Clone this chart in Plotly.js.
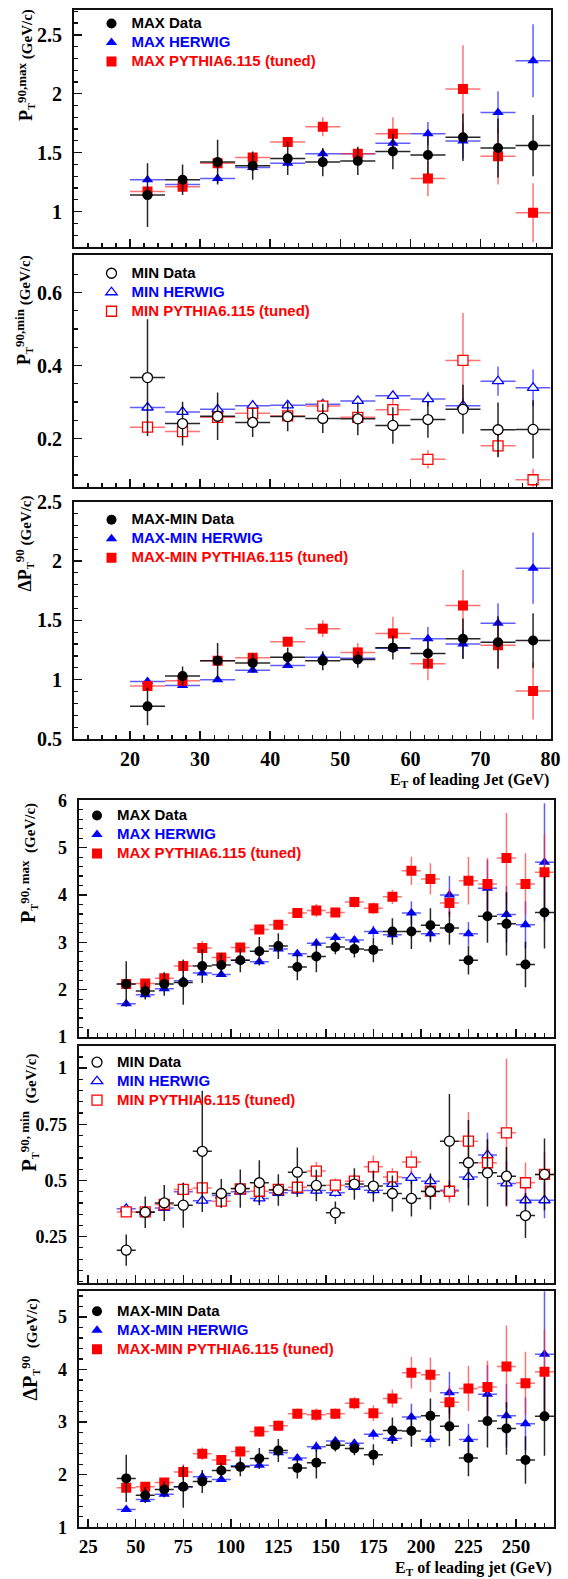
<!DOCTYPE html>
<html>
<head>
<meta charset="utf-8">
<script src="https://cdn.plot.ly/plotly-3.0.1.min.js"></script>
<style>html,body{margin:0;padding:0;background:#fff;}#chart{width:568px;height:1579px;}</style>
</head>
<body>
<div id="chart"></div>
<script>
// ---------------- DATA ----------------
// Upper group: E_T of leading jet bins 20-80 GeV (bin centres), half bin width
const xTop = [22.5, 27.5, 32.5, 37.5, 42.5, 47.5, 52.5, 57.5, 62.5, 67.5, 72.5, 77.5];
const topBinHalfWidth = 2.5;

const maxData      = [1.14, 1.27, 1.42, 1.39, 1.45, 1.42, 1.43, 1.51, 1.48, 1.63, 1.54, 1.56];
const maxDataErr   = [0.27, 0.13, 0.19, 0.12, 0.14, 0.12, 0.12, 0.15, 0.16, 0.20, 0.25, 0.26];
const maxHerwig    = [1.27, 1.23, 1.28, 1.375, 1.41, 1.49, 1.49, 1.58, 1.66, 1.60, 1.84, 2.28];
const maxHerwigErr = [0.02, 0.02, 0.04, 0.03, 0.03, 0.04, 0.02, 0.03, 0.10, 0.15, 0.18, 0.31];
const maxPythia    = [1.17, 1.21, 1.41, 1.46, 1.59, 1.72, 1.49, 1.66, 1.28, 2.04, 1.47, 0.99];
const maxPythiaErr = [0.03, 0.03, 0.03, 0.03, 0.04, 0.08, 0.05, 0.14, 0.15, 0.37, 0.24, 0.25];

const minData      = [0.367, 0.241, 0.261, 0.244, 0.260, 0.255, 0.254, 0.236, 0.252, 0.280, 0.224, 0.225];
const minDataErr   = [0.16, 0.06, 0.065, 0.04, 0.04, 0.04, 0.045, 0.05, 0.05, 0.067, 0.075, 0.08];
const minHerwig    = [0.285, 0.273, 0.280, 0.290, 0.291, 0.294, 0.303, 0.317, 0.308, 0.290, 0.357, 0.339];
const minHerwigErr = [0.005, 0.005, 0.005, 0.005, 0.005, 0.006, 0.006, 0.01, 0.02, 0.02, 0.04, 0.05];
const minPythia    = [0.231, 0.219, 0.258, 0.269, 0.262, 0.289, 0.258, 0.279, 0.143, 0.414, 0.180, 0.087];
const minPythiaErr = [0.01, 0.01, 0.01, 0.01, 0.01, 0.02, 0.01, 0.03, 0.025, 0.13, 0.03, 0.03];

const diffData      = [0.775, 1.03, 1.16, 1.14, 1.19, 1.16, 1.17, 1.27, 1.22, 1.345, 1.315, 1.33];
const diffDataErr   = [0.16, 0.08, 0.15, 0.08, 0.08, 0.08, 0.07, 0.10, 0.12, 0.17, 0.22, 0.23];
const diffHerwig    = [0.985, 0.95, 1.00, 1.08, 1.12, 1.19, 1.18, 1.265, 1.345, 1.30, 1.475, 1.94];
const diffHerwigErr = [0.02, 0.02, 0.02, 0.02, 0.02, 0.02, 0.02, 0.02, 0.10, 0.12, 0.17, 0.30];
const diffPythia    = [0.947, 0.99, 1.16, 1.185, 1.32, 1.43, 1.23, 1.39, 1.135, 1.625, 1.29, 0.905];
const diffPythiaErr = [0.03, 0.03, 0.03, 0.04, 0.04, 0.07, 0.08, 0.14, 0.14, 0.30, 0.20, 0.24];

// Lower group: E_T of leading jet bins 40-270 GeV (bin centres), half bin width
const xBot = [45, 55, 65, 75, 85, 95, 105, 115, 125, 135, 145, 155, 165, 175, 185, 195, 205, 215, 225, 235, 245, 255, 265];
const botBinHalfWidth = 5;

const max2Data      = [2.12, 1.97, 2.12, 2.15, 2.50, 2.52, 2.62, 2.81, 2.92, 2.48, 2.70, 2.90, 2.86, 2.84, 3.23, 3.23, 3.36, 3.30, 2.62, 3.55, 3.39, 2.53, 3.63];
const max2DataErr   = [0.48, 0.18, 0.25, 0.47, 0.36, 0.25, 0.25, 0.30, 0.27, 0.28, 0.33, 0.15, 0.18, 0.26, 0.28, 0.37, 0.36, 0.35, 0.30, 0.56, 0.67, 0.48, 0.76];
const max2Herwig    = [1.70, 1.89, 2.02, 2.19, 2.35, 2.32, 2.62, 2.59, 2.86, 2.76, 2.98, 3.10, 3.05, 3.23, 3.16, 3.62, 3.18, 4.00, 3.18, 4.14, 3.59, 3.37, 4.69];
const max2HerwigErr = [0.03, 0.05, 0.05, 0.05, 0.05, 0.05, 0.05, 0.05, 0.07, 0.08, 0.10, 0.08, 0.08, 0.12, 0.10, 0.25, 0.15, 0.40, 0.25, 0.60, 0.60, 0.50, 1.25];
const max2Pythia    = [2.12, 2.13, 2.24, 2.50, 2.88, 2.68, 2.89, 3.27, 3.37, 3.62, 3.67, 3.63, 3.85, 3.72, 3.96, 4.51, 4.34, 3.83, 4.30, 4.23, 4.78, 4.23, 4.48];
const max2PythiaErr = [0.05, 0.05, 0.06, 0.15, 0.15, 0.08, 0.10, 0.10, 0.10, 0.10, 0.14, 0.10, 0.12, 0.12, 0.15, 0.30, 0.33, 0.30, 0.50, 0.55, 0.95, 0.65, 0.80];

const min2Data      = [0.19, 0.359, 0.40, 0.39, 0.63, 0.442, 0.464, 0.49, 0.458, 0.537, 0.478, 0.356, 0.484, 0.475, 0.442, 0.42, 0.451, 0.675, 0.579, 0.534, 0.519, 0.344, 0.527];
const min2DataErr   = [0.07, 0.07, 0.08, 0.10, 0.27, 0.065, 0.085, 0.10, 0.07, 0.11, 0.07, 0.05, 0.07, 0.07, 0.08, 0.08, 0.08, 0.21, 0.19, 0.15, 0.13, 0.10, 0.16];
const min2Herwig    = [0.374, 0.36, 0.378, 0.45, 0.41, 0.433, 0.45, 0.42, 0.445, 0.455, 0.455, 0.445, 0.472, 0.457, 0.485, 0.512, 0.497, 0.457, 0.516, 0.613, 0.487, 0.412, 0.412];
const min2HerwigErr = [0.01, 0.01, 0.01, 0.015, 0.015, 0.015, 0.015, 0.02, 0.02, 0.02, 0.02, 0.02, 0.02, 0.02, 0.03, 0.03, 0.03, 0.04, 0.05, 0.10, 0.10, 0.07, 0.08];
const min2Pythia    = [0.36, 0.36, 0.393, 0.46, 0.467, 0.408, 0.463, 0.452, 0.46, 0.47, 0.542, 0.479, 0.497, 0.561, 0.516, 0.582, 0.452, 0.452, 0.675, 0.579, 0.712, 0.49, 0.527];
const min2PythiaErr = [0.01, 0.01, 0.015, 0.03, 0.03, 0.015, 0.02, 0.02, 0.02, 0.02, 0.04, 0.03, 0.03, 0.05, 0.04, 0.05, 0.04, 0.05, 0.13, 0.07, 0.33, 0.09, 0.10];

const diff2Data      = [1.93, 1.61, 1.72, 1.77, 1.87, 2.08, 2.15, 2.31, 2.46, 2.13, 2.23, 2.56, 2.50, 2.38, 2.84, 2.83, 3.12, 2.92, 2.32, 3.02, 2.88, 2.28, 3.11];
const diff2DataErr   = [0.45, 0.15, 0.15, 0.40, 0.22, 0.15, 0.18, 0.20, 0.22, 0.20, 0.30, 0.12, 0.13, 0.20, 0.25, 0.30, 0.33, 0.38, 0.35, 0.50, 0.50, 0.45, 0.75];
const diff2Herwig    = [1.34, 1.53, 1.63, 1.77, 1.96, 1.91, 2.17, 2.18, 2.42, 2.32, 2.53, 2.64, 2.60, 2.77, 2.69, 3.10, 2.67, 3.56, 2.67, 3.53, 3.12, 2.97, 4.29];
const diff2HerwigErr = [0.03, 0.05, 0.05, 0.05, 0.05, 0.05, 0.05, 0.05, 0.07, 0.07, 0.10, 0.08, 0.08, 0.10, 0.10, 0.25, 0.15, 0.40, 0.30, 0.55, 0.60, 0.50, 1.20];
const diff2Pythia    = [1.75, 1.77, 1.85, 2.05, 2.40, 2.28, 2.44, 2.82, 2.93, 3.16, 3.14, 3.16, 3.36, 3.17, 3.45, 3.94, 3.90, 3.38, 3.64, 3.67, 4.06, 3.74, 3.96];
const diff2PythiaErr = [0.05, 0.05, 0.06, 0.15, 0.12, 0.08, 0.10, 0.10, 0.10, 0.10, 0.12, 0.10, 0.12, 0.15, 0.17, 0.30, 0.33, 0.30, 0.43, 0.50, 0.78, 0.60, 0.80];

// Legend / axis texts
const legendNames = [
  ['MAX Data', 'MAX HERWIG', 'MAX PYTHIA6.115 (tuned)'],
  ['MIN Data', 'MIN HERWIG', 'MIN PYTHIA6.115 (tuned)'],
  ['MAX-MIN Data', 'MAX-MIN HERWIG', 'MAX-MIN PYTHIA6.115 (tuned)']
];
const yTitlesTop = [
  '<span style="font-size:18px">P</span><sub>T</sub><sup><span style="font-size:13px">90,max</span></sup> (GeV/c)',
  '<span style="font-size:18px">P</span><sub>T</sub><sup><span style="font-size:13px">90,min</span></sup> (GeV/c)',
  '<span style="font-size:18px">\u0394P</span><sub>T</sub><sup><span style="font-size:13px">90</span></sup> (GeV/c)'
];
const yTitlesBot = [
  '<span style="font-size:20px">P</span><sub>T</sub><sup><span style="font-size:13px">90, max</span></sup>  (GeV/c)',
  '<span style="font-size:20px">P</span><sub>T</sub><sup><span style="font-size:13px">90, min</span></sup>  (GeV/c)',
  '<span style="font-size:20px">\u0394P</span><sub>T</sub><sup><span style="font-size:13px">90</span></sup>  (GeV/c)'
];
const xTitleTop = 'E<sub>T</sub> of leading Jet (GeV)';
const xTitleBot = 'E<sub>T</sub> of leading jet (GeV)';

// ---------------- LAYOUT GEOMETRY ----------------
const W = 568, H = 1579;
const fx = X => X / W;
const fy = Y => 1 - Y / H;

const topXDom = [73.9, 550.6];
const botXDom = [78.7, 554];

const panels = [
  {yPix: [10, 247],      xPix: topXDom, xr: [12, 80],  xd: 10, xm: 2, yr: [0.7, 2.71],    yd: 0.5,  ym: 0.1,  lab: false, grp: 0},
  {yPix: [255.3, 486.7], xPix: topXDom, xr: [12, 80],  xd: 10, xm: 2, yr: [0.068, 0.702], yd: 0.2,  ym: 0.05, lab: false, grp: 0},
  {yPix: [501.7, 739],   xPix: topXDom, xr: [12, 80],  xd: 10, xm: 2, yr: [0.5, 2.5],     yd: 0.5,  ym: 0.1,  lab: true,  grp: 0},
  {yPix: [800.3, 1037],  xPix: botXDom, xr: [20, 270], xd: 25, xm: 5, yr: [1, 6],         yd: 1,    ym: 0.2,  lab: false, grp: 1},
  {yPix: [1045.7, 1282.7], xPix: botXDom, xr: [20, 270], xd: 25, xm: 5, yr: [0.045, 1.1], yd: 0.25, ym: 0.05, lab: false, grp: 1},
  {yPix: [1290.7, 1527.3], xPix: botXDom, xr: [20, 270], xd: 25, xm: 5, yr: [1, 5.5],     yd: 1,    ym: 0.2,  lab: true,  grp: 1}
];

const series = [
  {x: xTop, hw: topBinHalfWidth, d: [maxData, maxDataErr],  h: [maxHerwig, maxHerwigErr],  p: [maxPythia, maxPythiaErr],  open: false, names: legendNames[0]},
  {x: xTop, hw: topBinHalfWidth, d: [minData, minDataErr],  h: [minHerwig, minHerwigErr],  p: [minPythia, minPythiaErr],  open: true,  names: legendNames[1]},
  {x: xTop, hw: topBinHalfWidth, d: [diffData, diffDataErr], h: [diffHerwig, diffHerwigErr], p: [diffPythia, diffPythiaErr], open: false, names: legendNames[2]},
  {x: xBot, hw: botBinHalfWidth, d: [max2Data, max2DataErr],  h: [max2Herwig, max2HerwigErr],  p: [max2Pythia, max2PythiaErr],  open: false, names: legendNames[0]},
  {x: xBot, hw: botBinHalfWidth, d: [min2Data, min2DataErr],  h: [min2Herwig, min2HerwigErr],  p: [min2Pythia, min2PythiaErr],  open: true,  names: legendNames[1]},
  {x: xBot, hw: botBinHalfWidth, d: [diff2Data, diff2DataErr], h: [diff2Herwig, diff2HerwigErr], p: [diff2Pythia, diff2PythiaErr], open: false, names: legendNames[2]}
];

// legend geometry: left edge of legend box, first row centre y
const legendPos = [
  {lx: 91.5, y0: 23},
  {lx: 91.5, y0: 272.7},
  {lx: 91.5, y0: 519.3},
  {lx: 77,   y0: 815},
  {lx: 77,   y0: 1061.7},
  {lx: 77,   y0: 1310.7}
];
const LEG_FONT = 11.5;                 // controls row spacing (rows ~18px apart)
const LEG_ROW = LEG_FONT * 1.3 + 3;

const BLACK = '#000000', BLUE = '#0000ff', RED = '#ff0000';
const errCol = {k: 'rgba(0,0,0,0.85)', b: 'rgba(40,40,255,0.75)', r: 'rgba(255,40,40,0.65)'};

const traces = [];
const layout = {
  width: W, height: H,
  margin: {l: 0, r: 0, t: 0, b: 0},
  paper_bgcolor: '#ffffff', plot_bgcolor: '#ffffff',
  showlegend: true,
  annotations: [],
  font: {family: 'Liberation Serif', color: '#000'}
};

panels.forEach((pn, i) => {
  const n = i + 1;
  const xk = n === 1 ? 'xaxis' : 'xaxis' + n;
  const yk = n === 1 ? 'yaxis' : 'yaxis' + n;
  const xa = n === 1 ? 'x' : 'x' + n;
  const ya = n === 1 ? 'y' : 'y' + n;
  const lk = n === 1 ? 'legend' : 'legend' + n;

  layout[xk] = {
    domain: [fx(pn.xPix[0]), fx(pn.xPix[1])], range: pn.xr, anchor: ya,
    showline: true, mirror: true, linecolor: '#111', linewidth: 2,
    ticks: 'inside', ticklen: 8, tickwidth: 1.5, tickcolor: '#111',
    tick0: 0, dtick: pn.xd,
    minor: {ticks: 'inside', ticklen: 4, tickwidth: 1.2, tickcolor: '#111', dtick: pn.xm, tick0: 0, showgrid: false},
    showgrid: false, zeroline: false, showticklabels: pn.lab,
    tickfont: {family: 'Liberation Serif', size: pn.grp === 0 ? 20 : 19, color: '#000', weight: 'bold'},
    ticklabelstandoff: 1
  };
  layout[yk] = {
    domain: [fy(pn.yPix[1]), fy(pn.yPix[0])], range: pn.yr, anchor: xa,
    showline: true, mirror: true, linecolor: '#111', linewidth: 2,
    ticks: 'inside', ticklen: 8, tickwidth: 1.5, tickcolor: '#111',
    tick0: 0, dtick: pn.yd,
    minor: {ticks: 'inside', ticklen: 4, tickwidth: 1.2, tickcolor: '#111', dtick: pn.ym, tick0: 0, showgrid: false},
    showgrid: false, zeroline: false,
    tickfont: {family: 'Liberation Serif', size: pn.grp === 0 ? 20 : 18, color: '#000', weight: 'bold'},
    ticklabelstandoff: 6
  };

  const lp = legendPos[i];
  layout[lk] = {
    x: fx(lp.lx), y: fy(lp.y0 - LEG_ROW / 2 - 5), xanchor: 'left', yanchor: 'top',
    bgcolor: 'rgba(0,0,0,0)', borderwidth: 0,
    font: {family: 'Liberation Sans', size: LEG_FONT, color: '#000'},
    tracegroupgap: 0, traceorder: 'normal', itemclick: false, itemdoubleclick: false
  };

  const s = series[i];
  const mk = (sym, col) => s.open
    ? {symbol: sym, size: 10, color: '#ffffff', line: {color: col, width: 1.3}}
    : {symbol: sym, size: 10, color: col, line: {width: 0}};
  const base = (vals, errs, ecol) => ({
    type: 'scatter', mode: 'markers', x: s.x, y: vals, xaxis: xa, yaxis: ya, legend: lk,
    error_y: {type: 'data', array: errs, visible: true, color: ecol, thickness: 1.5, width: 0},
    error_x: {type: 'constant', value: s.hw, visible: true, color: ecol, thickness: 1.5, width: 0},
    hoverinfo: 'x+y'
  });
  const lbl = (t, c) => '<span style="font-size:15px;font-weight:bold;color:' + c + '">' + t + '</span>';

  traces.push(Object.assign(base(s.h[0], s.h[1], errCol.b), {
    name: lbl(s.names[1], BLUE), legendrank: 2, marker: mk('triangle-up', BLUE)}));
  traces.push(Object.assign(base(s.p[0], s.p[1], errCol.r), {
    name: lbl(s.names[2], RED), legendrank: 3, marker: mk('square', RED)}));
  traces.push(Object.assign(base(s.d[0], s.d[1], errCol.k), {
    name: lbl(s.names[0], BLACK), legendrank: 1, marker: mk('circle', BLACK)}));
});

// Y-axis titles (rotated), centred where the original places them
const yTitlePos = [
  {x: 25, cy: 65,     size: 15, text: yTitlesTop[0]},
  {x: 24, cy: 310,    size: 15, text: yTitlesTop[1]},
  {x: 24, cy: 543.5,  size: 15, text: yTitlesTop[2]},
  {x: 29, cy: 863,    size: 15, text: yTitlesBot[0]},
  {x: 29, cy: 1112.5, size: 15, text: yTitlesBot[1]},
  {x: 30, cy: 1349.5, size: 15, text: yTitlesBot[2]}
];
yTitlePos.forEach(t => {
  layout.annotations.push({
    xref: 'paper', yref: 'paper', x: fx(t.x), y: fy(t.cy), xanchor: 'center', yanchor: 'middle',
    text: '<b>' + t.text + '</b>', textangle: -90, showarrow: false,
    font: {family: 'Liberation Serif', size: t.size, color: '#000'}
  });
});
// X-axis titles
layout.annotations.push({
  xref: 'paper', yref: 'paper', x: fx(topXDom[1]), y: fy(780), xanchor: 'right', yanchor: 'middle',
  text: '<b>' + xTitleTop + '</b>', showarrow: false,
  font: {family: 'Liberation Serif', size: 16, color: '#000'}
});
layout.annotations.push({
  xref: 'paper', yref: 'paper', x: fx(botXDom[1]), y: fy(1568), xanchor: 'right', yanchor: 'middle',
  text: '<b>' + xTitleBot + '</b>', showarrow: false,
  font: {family: 'Liberation Serif', size: 16, color: '#000'}
});

Plotly.newPlot('chart', traces, layout, {staticPlot: true, displayModeBar: false});
</script>
</body>
</html>
